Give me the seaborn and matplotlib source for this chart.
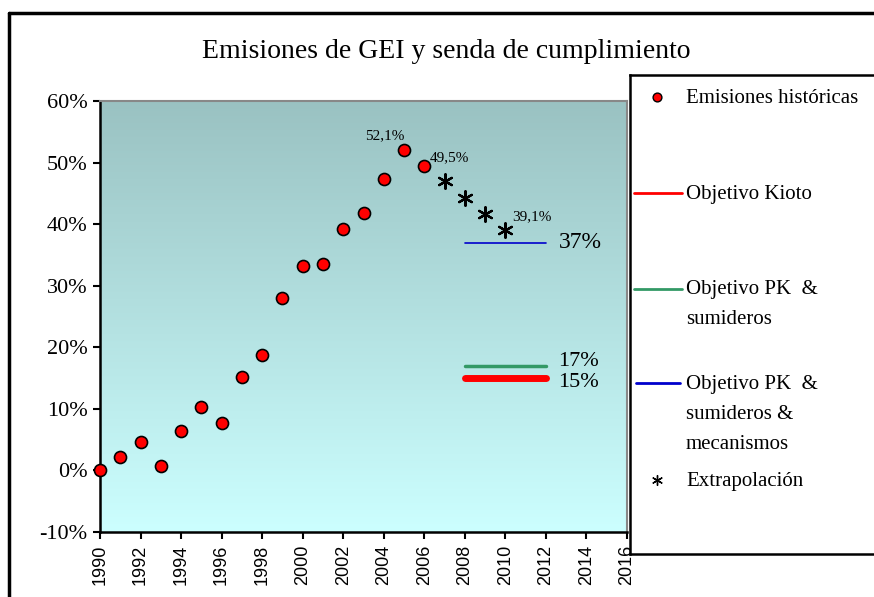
import matplotlib
matplotlib.use("Agg")
import matplotlib.pyplot as plt
from matplotlib.lines import Line2D
from matplotlib.colors import LinearSegmentedColormap
import seaborn as sns
import numpy as np
import pandas as pd

sns.set_theme(style="white")
plt.rcParams['font.family'] = ['Liberation Serif', 'DejaVu Serif']
plt.rcParams['text.color'] = 'black'
plt.rcParams['xtick.color'] = 'black'
plt.rcParams['ytick.color'] = 'black'

# --- data ---
hist_years = [1990, 1991, 1992, 1993, 1994, 1995, 1996, 1997, 1998,
              1999, 2000, 2001, 2002, 2003, 2004, 2005, 2006]
hist_values = [0.0, 2.2, 4.6, 0.7, 6.4, 10.3, 7.7, 15.1, 18.7,
               28.0, 33.2, 33.5, 39.2, 41.8, 47.3, 52.1, 49.5]
extra_years = [2007, 2008, 2009, 2010]
extra_values = [47.0, 44.3, 41.7, 39.1]

target_years = [2008, 2012]
target_kioto = 15
target_pk = 17
target_pk_mec = 37

x_ticks = list(range(1990, 2017, 2))
y_ticks = [-10, 0, 10, 20, 30, 40, 50, 60]

W, H = 874, 597
fig = plt.figure(figsize=(W / 100, H / 100), dpi=100)
fig.patch.set_facecolor("white")


def fx(px):
    return px / W


def fy(py):
    return 1 - py / H


ax = fig.add_axes([fx(100), fy(532), fx(627) - fx(100), fy(101) - fy(532)])

# gradient plot area
grad = LinearSegmentedColormap.from_list("bg", ["#CCFFFF", "#9AC2C2"])
ax.imshow(np.linspace(0, 1, 256).reshape(-1, 1), cmap=grad, origin="lower",
          extent=[0, 1, 0, 1], transform=ax.transAxes, aspect="auto", zorder=0)

hist_df = pd.DataFrame({"year": hist_years, "value": hist_values})
extra_df = pd.DataFrame({"year": extra_years, "value": extra_values})

sns.scatterplot(data=hist_df, x="year", y="value", ax=ax, color="#FF0000",
                edgecolor="black", linewidth=1.2, s=75, zorder=5, clip_on=False)
sns.scatterplot(data=extra_df, x="year", y="value", ax=ax, color="black",
                marker=(6, 2, 0), linewidth=1.6, s=110, zorder=5)

sns.lineplot(x=target_years, y=[target_pk_mec] * 2, ax=ax, color="#0000CC", lw=1.2, zorder=4)
sns.lineplot(x=target_years, y=[target_pk] * 2, ax=ax, color="#339966", lw=2.5, zorder=4)
sns.lineplot(x=target_years, y=[target_kioto] * 2, ax=ax, color="#FF0000", lw=5, zorder=4)

ax.set_xlim(1990, 2016)
ax.set_ylim(-10, 60)
ax.set_xticks(x_ticks)
ax.set_xticklabels([str(y) for y in x_ticks], rotation=90, fontsize=13,
                   family="Liberation Sans")
ax.set_yticks(y_ticks)
ax.set_yticklabels([f"{v}%" for v in y_ticks], fontsize=16)
ax.tick_params(axis="both", direction="out", length=5, width=1.5, color="black",
               labelcolor="black", left=True, bottom=True, pad=4)
ax.set_xlabel("")
ax.set_ylabel("")
for side in ["left", "bottom"]:
    ax.spines[side].set_color("black")
    ax.spines[side].set_linewidth(1.8)
for side in ["top", "right"]:
    ax.spines[side].set_color("#888888")
    ax.spines[side].set_linewidth(1.5)

# data labels
ax.annotate("52,1%", (hist_years[-2], hist_values[-2]), xytext=(-14, 10),
            textcoords="offset points", ha="center", va="center", fontsize=11)
ax.annotate("49,5%", (hist_years[-1], hist_values[-1]), xytext=(18, 6),
            textcoords="offset points", ha="center", va="center", fontsize=11)
ax.annotate("39,1%", (extra_years[-1], extra_values[-1]), xytext=(19, 9),
            textcoords="offset points", ha="center", va="center", fontsize=11)
for val in [target_pk_mec, target_pk, target_kioto]:
    off = {37: 0, 17: 3, 15: -3}[val]
    ax.annotate(f"{val}%", (target_years[-1], val), xytext=(9, off),
                textcoords="offset points", ha="left", va="center",
                fontsize=17 if val == 37 else 16)

fig.text(fx(446), fy(52), "Emisiones de GEI y senda de cumplimiento",
         ha="center", va="center", fontsize=20)

# legend box
leg = fig.add_axes([fx(630), fy(554), 1 - fx(630) + 0.02, fy(75) - fy(554)])
leg.set_xlim(630, 874 + 0.02 * W)
leg.set_ylim(554, 75)
leg.set_xticks([])
leg.set_yticks([])
leg.set_facecolor("white")
for s in leg.spines.values():
    s.set_color("black")
    s.set_linewidth(1.8)

leg.scatter([657], [97], color="#FF0000", edgecolor="black", s=40, linewidth=1.0)
leg.plot([634, 682], [193, 193], color="#FF0000", lw=2)
leg.plot([634, 682], [289, 289], color="#339966", lw=2)
leg.plot([636, 680], [383, 383], color="#0000CC", lw=2)
leg.scatter([657], [480], color="black", marker=(6, 2, 0), s=50, linewidth=1.0)

legend_lines = [
    (98, "Emisiones históricas"),
    (194, "Objetivo Kioto"),
    (289, "Objetivo PK  &"), (319, "sumideros"),
    (384, "Objetivo PK  &"), (414, "sumideros &"), (444, "mecanismos"),
    (481, "Extrapolación"),
]
for yy, txt in legend_lines:
    leg.text(686, yy, txt, ha="left", va="center", fontsize=15)

# outer chart border
fig.add_artist(Line2D([fx(9), fx(9)], [0, fy(13)], color="black", lw=2.5))
fig.add_artist(Line2D([fx(9), 1], [fy(13), fy(13)], color="black", lw=2.5))

fig.savefig("out.png", dpi=100)
